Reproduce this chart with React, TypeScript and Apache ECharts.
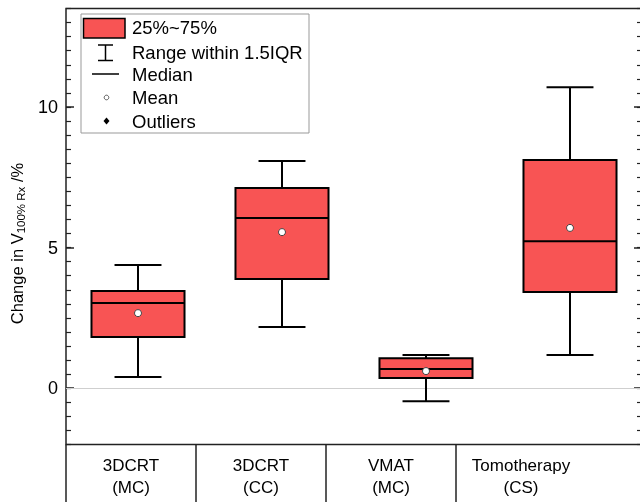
import React, { useEffect, useRef } from 'react';
import * as echarts from 'echarts';

const categories = ['3DCRT\n(MC)', '3DCRT\n(CC)', 'VMAT\n(MC)', 'Tomotherapy\n(CS)'];
const whiskerLow = [0.40, 2.18, -0.46, 1.18];
const q1 = [1.82, 3.88, 0.36, 3.42];
const median = [3.03, 6.05, 0.68, 5.23];
const q3 = [3.46, 7.12, 1.07, 8.11];
const whiskerHigh = [4.38, 8.08, 1.18, 10.70];
const means = [2.67, 5.55, 0.61, 5.70];
const yMajorTicks = [0, 5, 10];
const legendLabels = ['25%~75%', 'Range within 1.5IQR', 'Median', 'Mean', 'Outliers'];

const RED = '#F85454';
const FONT = '"Liberation Sans", Arial, sans-serif';

export default function App() {
  const ref = useRef<HTMLDivElement>(null);
  useEffect(() => {
    if (!ref.current) return;
    const chart = echarts.init(ref.current, null, { renderer: 'svg' });
    const boxData = categories.map((_, i) => [i, whiskerLow[i], q1[i], median[i], q3[i], whiskerHigh[i]]);
    const meanData = means.map((m, i) => [i, m]);

    const legendRowY = [27, 52, 74.5, 97.5, 121];
    const legendGraphics: any[] = [
      { type: 'rect', shape: { x: 81, y: 14, width: 228, height: 119 }, style: { fill: '#fff', stroke: '#999', lineWidth: 1 }, z: 10 },
      { type: 'rect', shape: { x: 83.5, y: 18.5, width: 41.5, height: 19.5 }, style: { fill: RED, stroke: '#000', lineWidth: 1.5 }, z: 11 },
      { type: 'line', shape: { x1: 105.5, y1: 45, x2: 105.5, y2: 60.5 }, style: { stroke: '#000', lineWidth: 1.5 }, z: 11 },
      { type: 'line', shape: { x1: 98, y1: 45, x2: 113, y2: 45 }, style: { stroke: '#000', lineWidth: 1.5 }, z: 11 },
      { type: 'line', shape: { x1: 98, y1: 60.5, x2: 113, y2: 60.5 }, style: { stroke: '#000', lineWidth: 1.5 }, z: 11 },
      { type: 'line', shape: { x1: 92, y1: 74, x2: 119, y2: 74 }, style: { stroke: '#000', lineWidth: 1.5 }, z: 11 },
      { type: 'circle', shape: { cx: 106.5, cy: 97.5, r: 2.3 }, style: { fill: '#fff', stroke: '#555', lineWidth: 1 }, z: 11 },
      { type: 'polygon', shape: { points: [[106.5, 117.5], [109.5, 121], [106.5, 124.5], [103.5, 121]] }, style: { fill: '#000' }, z: 11 },
    ];
    legendLabels.forEach((t, i) => {
      legendGraphics.push({
        type: 'text', x: 132, y: legendRowY[i], z: 11,
        style: { text: t, fontSize: 18.5, fontFamily: FONT, fill: '#000', verticalAlign: 'middle', align: 'left' },
      });
    });

    chart.setOption({
      animation: false,
      textStyle: { fontFamily: FONT },
      grid: [
        { left: 66, top: 8.5, width: 576, height: 436, show: true, borderColor: '#222', borderWidth: 1.5, backgroundColor: 'transparent', outerBoundsMode: 'none', containLabel: false },
        { left: 66, top: 444.5, width: 650, height: 100, show: false, outerBoundsMode: 'none', containLabel: false },
      ],
      xAxis: [
        {
          gridIndex: 0, type: 'category', data: categories,
          axisLine: { show: false }, axisTick: { show: false }, axisLabel: { show: false }, splitLine: { show: false },
        },
        {
          gridIndex: 1, type: 'category', data: [...categories, ''], position: 'top',
          axisLine: { show: false }, axisTick: { show: false },
          axisLabel: { inside: true, margin: 10, fontSize: 17, lineHeight: 22, color: '#000', fontFamily: FONT, interval: 0 },
          splitLine: { show: true, interval: (idx: number) => idx <= 3, lineStyle: { color: '#222', width: 1.5 } },
        },
      ],
      yAxis: [
        {
          gridIndex: 0, type: 'value', min: -2, max: 13.5, position: 'left',
          axisLine: { show: false }, splitLine: { show: false },
          axisTick: { show: true, inside: true, length: 8, customValues: yMajorTicks, lineStyle: { color: '#222', width: 1.5 } },
          axisLabel: { show: true, customValues: yMajorTicks, fontSize: 18, color: '#000', margin: 8, fontFamily: FONT },
          name: '{a|Change in V}{s|100% Rx}{a| /%}', nameLocation: 'middle', nameRotate: 90, nameGap: 35,
          nameTextStyle: {
            padding: [0, 34, 0, 0],
            rich: {
              a: { fontSize: 16.5, color: '#000', fontFamily: FONT, lineHeight: 21 },
              s: { fontSize: 11.5, color: '#000', fontFamily: FONT, verticalAlign: 'bottom', lineHeight: 15 },
            },
          },
        },
        {
          gridIndex: 0, type: 'value', min: -2, max: 13.5, interval: 0.5, position: 'left',
          axisLine: { show: false }, splitLine: { show: false }, axisLabel: { show: false },
          axisTick: { show: true, inside: true, length: 5, lineStyle: { color: '#222', width: 1.2 } },
        },
        {
          gridIndex: 0, type: 'value', min: -2, max: 13.5, position: 'right',
          axisLine: { show: false }, splitLine: { show: false }, axisLabel: { show: false },
          axisTick: { show: true, inside: true, length: 8, customValues: yMajorTicks, lineStyle: { color: '#222', width: 1.5 } },
        },
        {
          gridIndex: 0, type: 'value', min: -2, max: 13.5, interval: 0.5, position: 'right',
          axisLine: { show: false }, splitLine: { show: false }, axisLabel: { show: false },
          axisTick: { show: true, inside: true, length: 5, lineStyle: { color: '#222', width: 1.2 } },
        },
        { gridIndex: 1, type: 'value', show: false },
      ],
      series: [
        {
          type: 'custom', xAxisIndex: 0, yAxisIndex: 0, data: boxData,
          encode: { x: 0, y: [1, 2, 3, 4, 5] },
          renderItem: (params: any, api: any) => {
            const i = api.value(0);
            const lo = api.coord([i, api.value(1)]);
            const b1 = api.coord([i, api.value(2)]);
            const md = api.coord([i, api.value(3)]);
            const b3 = api.coord([i, api.value(4)]);
            const hi = api.coord([i, api.value(5)]);
            const band = api.size([1, 0])[0];
            const bw = band * 0.646;
            const cw = band * 0.326;
            const x = lo[0];
            const ls = { stroke: '#000', lineWidth: 2 };
            return {
              type: 'group',
              children: [
                { type: 'line', shape: { x1: x, y1: hi[1], x2: x, y2: lo[1] }, style: ls },
                { type: 'line', shape: { x1: x - cw / 2, y1: hi[1], x2: x + cw / 2, y2: hi[1] }, style: ls },
                { type: 'line', shape: { x1: x - cw / 2, y1: lo[1], x2: x + cw / 2, y2: lo[1] }, style: ls },
                { type: 'rect', shape: { x: x - bw / 2, y: b3[1], width: bw, height: b1[1] - b3[1] }, style: { fill: RED, stroke: '#000', lineWidth: 2 } },
                { type: 'line', shape: { x1: x - bw / 2, y1: md[1], x2: x + bw / 2, y2: md[1] }, style: ls },
              ],
            };
          },
          z: 3,
        },
        {
          type: 'scatter', xAxisIndex: 0, yAxisIndex: 0, data: meanData,
          symbol: 'circle', symbolSize: 7,
          itemStyle: { color: '#fff', borderColor: '#444', borderWidth: 1, opacity: 1 },
          z: 5, silent: true,
          markLine: {
            silent: true, symbol: 'none', label: { show: false },
            lineStyle: { color: '#cfcfcf', width: 1, type: 'solid' },
            data: [{ yAxis: 0 }],
            z: 1,
          },
        },
      ],
      graphic: legendGraphics,
    });
    return () => chart.dispose();
  }, []);
  return <div ref={ref} style={{ position: 'fixed', left: 0, top: 0, width: 640, height: 502 }} />;
}
